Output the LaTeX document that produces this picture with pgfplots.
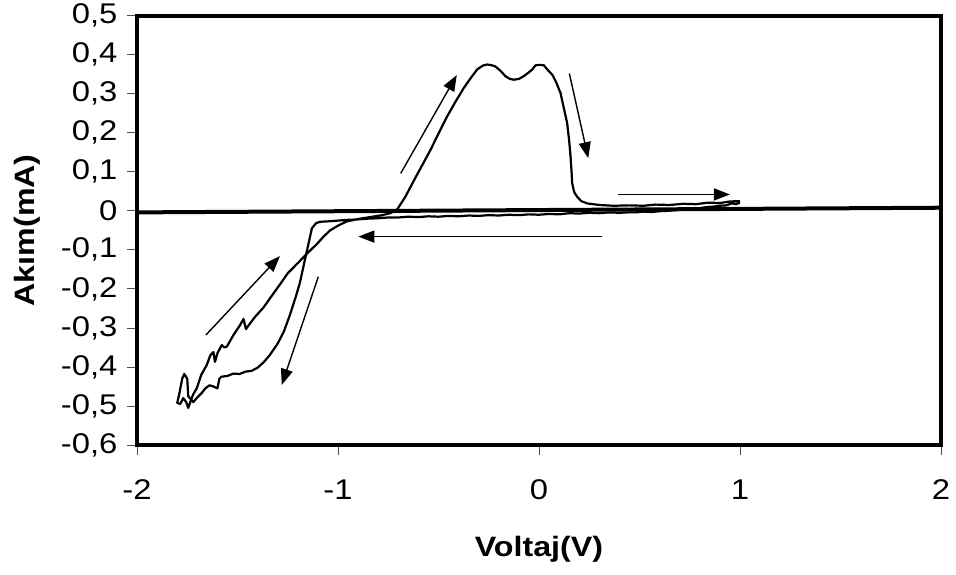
\documentclass[border=0pt]{standalone}
\usepackage{fontspec}
\setmainfont{Liberation Sans}[FakeStretch=1.15]
\usepackage{pgfplots}
\pgfplotsset{compat=1.18}
\usetikzlibrary{arrows.meta}
\begin{document}
\fontsize{28}{33}\selectfont
\begin{tikzpicture}
\begin{axis}[
  scale only axis, width=804pt, height=429.3pt,
  xmin=-2, xmax=2, ymin=-0.6, ymax=0.5,
  xtick={-2,-1,0,1,2},
  ytick={-0.6,-0.5,-0.4,-0.3,-0.2,-0.1,0,0.1,0.2,0.3,0.4,0.5},
  tick pos=left, tick align=outside, major tick length=10pt,
  major tick style={line width=0.8pt, black!70},
  axis line style={line width=4pt},
  xticklabel shift=15pt,
  /pgf/number format/assume math mode=true,
  /pgf/number format/.cd, use comma, fixed, precision=1, /pgfplots/.cd,
  tick label style={font=\fontsize{28.5}{33}\selectfont},
  xlabel={\textbf{Voltaj(V)}}, ylabel={\textbf{Akım(mA)}},
  label style={font=\fontsize{28}{33}\selectfont},
  xlabel style={at={(axis description cs:0.5,-0.2423)}, anchor=center},
  ylabel style={at={(axis description cs:-0.1362,0.5)}, anchor=center},
]
% baseline / thick line
\addplot[black, line width=4pt] coordinates {(-2,-0.004) (2,0.008)};
% I-V hysteresis loop
\addplot[black, line width=2.2pt, line join=round] coordinates {
(1.00,0.021) (0.98,0.017) (0.96,0.019) (0.93,0.014) (0.90,0.013) (0.87,0.011) (0.84,0.010)
(0.80,0.007) (0.76,0.006) (0.72,0.003) (0.68,0.002) (0.64,0.000) (0.60,-0.001) (0.56,-0.003)
(0.52,-0.002) (0.48,-0.004) (0.44,-0.004) (0.40,-0.005) (0.35,-0.004) (0.30,-0.006) (0.25,-0.005)
(0.20,-0.007) (0.15,-0.006) (0.10,-0.009) (0.05,-0.008) (0.00,-0.010) (-0.05,-0.009) (-0.10,-0.011)
(-0.15,-0.010) (-0.20,-0.012) (-0.25,-0.011) (-0.30,-0.013) (-0.35,-0.012) (-0.40,-0.014)
(-0.45,-0.013) (-0.50,-0.015) (-0.55,-0.014) (-0.60,-0.016) (-0.65,-0.015) (-0.70,-0.017)
(-0.75,-0.017) (-0.80,-0.019) (-0.85,-0.020) (-0.90,-0.022) (-0.95,-0.023) (-1.00,-0.025)
(-1.05,-0.027) (-1.09,-0.028) (-1.11,-0.032) (-1.13,-0.045) (-1.145,-0.080) (-1.16,-0.115)
(-1.175,-0.150) (-1.19,-0.185) (-1.21,-0.220) (-1.24,-0.268) (-1.27,-0.310) (-1.30,-0.340)
(-1.34,-0.370) (-1.37,-0.388) (-1.40,-0.402) (-1.43,-0.410) (-1.46,-0.412) (-1.49,-0.418)
(-1.52,-0.417) (-1.55,-0.423) (-1.58,-0.425) (-1.59,-0.430) (-1.60,-0.455) (-1.62,-0.450)
(-1.64,-0.447) (-1.66,-0.455) (-1.68,-0.468) (-1.70,-0.478) (-1.72,-0.490) (-1.745,-0.475)
(-1.75,-0.430) (-1.765,-0.418) (-1.775,-0.430) (-1.79,-0.470) (-1.80,-0.492) (-1.785,-0.495)
(-1.77,-0.480) (-1.755,-0.490) (-1.745,-0.505) (-1.735,-0.490)
(-1.72,-0.470) (-1.703,-0.455) (-1.68,-0.420) (-1.653,-0.395) (-1.635,-0.370) (-1.62,-0.362)
(-1.612,-0.387) (-1.60,-0.365) (-1.578,-0.344) (-1.565,-0.350) (-1.553,-0.348) (-1.52,-0.318)
(-1.49,-0.295) (-1.47,-0.277) (-1.458,-0.303) (-1.44,-0.290) (-1.41,-0.270) (-1.371,-0.248)
(-1.33,-0.218) (-1.288,-0.188) (-1.25,-0.160) (-1.204,-0.136) (-1.155,-0.110) (-1.105,-0.085)
(-1.07,-0.065) (-1.039,-0.050) (-1.00,-0.038) (-0.956,-0.027) (-0.90,-0.021) (-0.84,-0.016)
(-0.78,-0.011) (-0.74,-0.006) (-0.72,-0.001) (-0.705,0.004)
(-0.685,0.020) (-0.665,0.036) (-0.62,0.080) (-0.58,0.118) (-0.54,0.156) (-0.50,0.198)
(-0.457,0.242) (-0.415,0.280) (-0.374,0.315) (-0.34,0.340) (-0.308,0.362) (-0.28,0.372)
(-0.258,0.375) (-0.235,0.373) (-0.217,0.370) (-0.19,0.358) (-0.167,0.345) (-0.145,0.338)
(-0.126,0.336) (-0.10,0.338) (-0.076,0.345) (-0.05,0.355) (-0.034,0.362) (-0.017,0.373)
(0.00,0.374) (0.024,0.373) (0.045,0.360) (0.066,0.349) (0.085,0.330) (0.107,0.302)
(0.125,0.260) (0.140,0.225) (0.150,0.180) (0.157,0.139) (0.162,0.100) (0.165,0.071)
(0.175,0.048) (0.19,0.036) (0.21,0.025) (0.24,0.019) (0.30,0.015) (0.37,0.013)
(0.45,0.014) (0.52,0.013) (0.58,0.016) (0.65,0.015) (0.72,0.018) (0.78,0.017)
(0.84,0.021) (0.90,0.020) (0.95,0.024) (1.00,0.025)
};
% direction arrows
\begin{scope}[line width=1.4pt, -{Triangle[length=16pt,width=12pt]}]
\draw (axis cs:-0.688,0.096) -- (axis cs:-0.409,0.348);
\draw (axis cs:0.151,0.352) -- (axis cs:0.245,0.135);
\draw (axis cs:0.395,0.042) -- (axis cs:0.950,0.042);
\draw (axis cs:0.313,-0.066) -- (axis cs:-0.899,-0.066);
\draw (axis cs:-1.657,-0.318) -- (axis cs:-1.289,-0.116);
\draw (axis cs:-1.098,-0.169) -- (axis cs:-1.280,-0.446);
\end{scope}
\end{axis}
\pgfresetboundingbox
\path[use as bounding box] (-137pt,-129pt) rectangle (819pt,445pt);
\end{tikzpicture}
\end{document}
